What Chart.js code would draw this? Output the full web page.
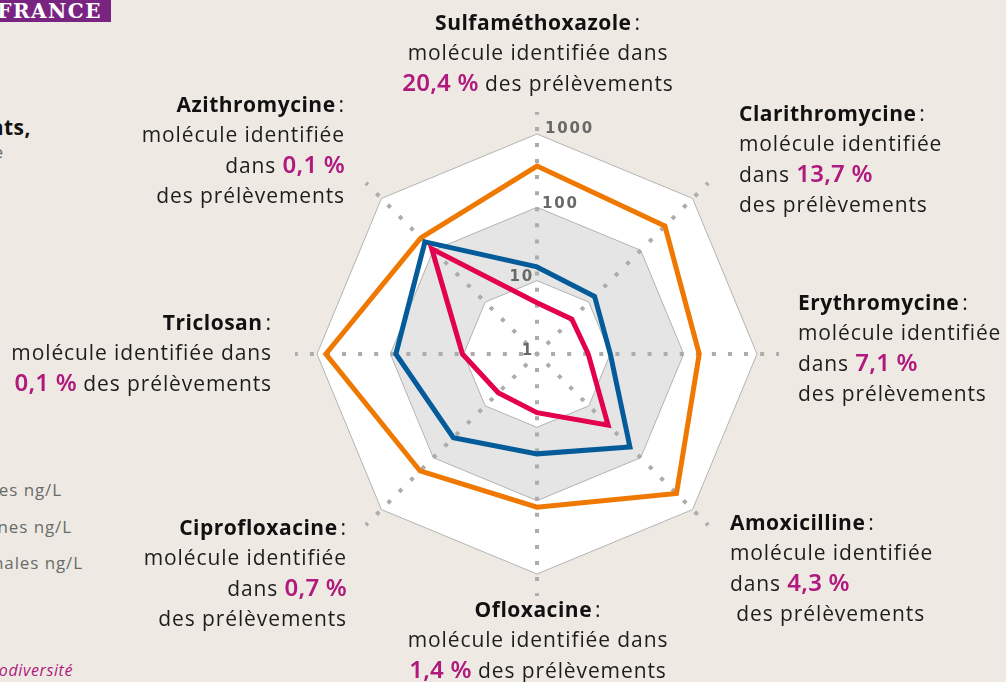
<!DOCTYPE html>
<html lang="fr">
<head>
<meta charset="utf-8">
<script src="https://cdn.jsdelivr.net/npm/chart.js@4.4.1/dist/chart.umd.min.js"></script>
<style>
  html, body { margin:0; padding:0; }
  body { width:1006px; height:682px; overflow:hidden; position:relative; background:#eeeae3; font-family:'Open Sans', sans-serif; }
  #c { position:absolute; left:0; top:0; }
  .lbl { position:absolute; font-size:21px; line-height:30px; color:#1d1d1d; letter-spacing:0.9px; white-space:nowrap; }
  .lbl b { font-weight:700; color:#111; letter-spacing:0.5px; }
  .pct { color:#b0197e; font-weight:600; font-size:24px; font-family:'Noto Sans', sans-serif; letter-spacing:0.2px; line-height:30px; }
  .c { text-align:center; transform:translateX(-50%); }
  .r { text-align:right; }
  .tag { position:absolute; left:-40px; top:-6px; height:28px; width:151px; background:#7a2482; color:#fff; font-family:'DejaVu Serif', serif; font-weight:700; font-size:20px; line-height:34px; text-align:right; letter-spacing:1.5px; box-sizing:border-box; padding-right:9px; }
  .cut { position:absolute; white-space:nowrap; text-align:right; }
</style>
</head>
<body>
<div class="tag">FRANCE</div>
<div class="cut" style="right:975px; top:113px; font-size:21px; font-weight:700; color:#111; letter-spacing:0.5px;">Résidus de médicaments,</div>
<div class="cut" style="right:1003px; top:140px; font-size:17px; color:#666;">en France métropolitaine</div>
<div id="legend"></div>
<div class="cut" style="right:933px; top:659px; font-size:16px; font-style:italic; color:#b0197e; letter-spacing:0.6px;">Source : Office français de la biodiversité</div>
<canvas id="c" width="1006" height="682"></canvas>
<div id="labels"></div>
<script>
// ---- Data ----
const categories = ['Sulfaméthoxazole', 'Clarithromycine', 'Erythromycine', 'Amoxicilline', 'Ofloxacine', 'Ciprofloxacine', 'Triclosan', 'Azithromycine'];
const detectionRates = ['20,4', '13,7', '7,1', '4,3', '1,4', '0,7', '0,1', '0,1'];
const maxConc  = [365, 293, 163, 490, 123, 180, 757, 174];
const meanConc = [15.4, 12.9, 10, 62, 23, 41, 84, 145];
const minConc  = [5.0, 4.7, 5.0, 23.5, 6.3, 5.6, 10.4, 107];
const tickValues = [1, 10, 100, 1000];
const tickLabels = ['1', '10', '100', '1000'];
const seriesNames = ['Concentrations minimales ng/L', 'Concentrations moyennes ng/L', 'Concentrations maximales ng/L'];

// ---- Side texts (cropped legend) ----
const legendRight = [944, 934, 923];
const legendTop = [478, 515, 551];
const legendEl = document.getElementById('legend');
seriesNames.forEach((n, i) => {
  const d = document.createElement('div');
  d.className = 'cut';
  d.style.cssText = `right:${legendRight[i]}px; top:${legendTop[i]}px; font-size:17px; color:#6a6a6a; letter-spacing:0.9px;`;
  d.textContent = n;
  legendEl.appendChild(d);
});

// ---- Category labels ----
const labelLayout = [
  {cls:'c', x:538, top:7, lines:3},
  {cls:'', x:739, top:98, lines:4},
  {cls:'', x:798, top:287, lines:4},
  {cls:'', x:730, top:507, lines:4, indent:true},
  {cls:'c', x:538, top:594, lines:3},
  {cls:'r', x:347, top:512, lines:4},
  {cls:'r', x:272, top:307, lines:3},
  {cls:'r', x:345, top:89, lines:4}
];
const labelsEl = document.getElementById('labels');
categories.forEach((name, i) => {
  const L = labelLayout[i];
  const d = document.createElement('div');
  d.className = 'lbl ' + L.cls;
  if (L.cls === 'r') d.style.right = (1006 - L.x) + 'px'; else d.style.left = L.x + 'px';
  d.style.top = L.top + 'px';
  const pct = `<span class="pct">${detectionRates[i]}&nbsp;%</span>`;
  if (L.lines === 3) {
    d.innerHTML = `<b>${name}</b>&#8202;:<br>molécule identifiée dans<br>${pct} des prélèvements`;
  } else {
    d.innerHTML = `<b>${name}</b>&#8202;:<br>molécule identifiée<br>dans ${pct}<br>${L.indent ? '&nbsp;' : ''}des prélèvements`;
  }
  labelsEl.appendChild(d);
});

// ---- Plugins ----
const bandPlugin = {
  id: 'bands',
  beforeDraw(chart) {
    const s = chart.scales.r, ctx = chart.ctx;
    const bands = [[3, '#ffffff'], [2, '#e5e5e5'], [1, '#ffffff']];
    bands.forEach(([v, col]) => {
      const r = s.getDistanceFromCenterForValue(v);
      ctx.beginPath();
      for (let i = 0; i < categories.length; i++) {
        const p = s.getPointPosition(i, r);
        if (i === 0) ctx.moveTo(p.x, p.y); else ctx.lineTo(p.x, p.y);
      }
      ctx.closePath();
      ctx.fillStyle = col;
      ctx.fill();
    });
  }
};
const tickPlugin = {
  id: 'tickText',
  beforeDatasetsDraw(chart) {
    const s = chart.scales.r, ctx = chart.ctx;
    ctx.save();
    ctx.font = 'bold 15px "DejaVu Sans"';
    ctx.fillStyle = '#686868';
    ctx.letterSpacing = '1.8px';
    ctx.textBaseline = 'alphabetic';
    tickValues.forEach((v, i) => {
      const r = s.getDistanceFromCenterForValue(Math.log10(v));
      const y = s.yCenter - r + (v >= 1000 ? -1.5 : 0.5);
      if (v >= 100) { ctx.textAlign = 'left'; ctx.fillText(tickLabels[i], s.xCenter + (v >= 1000 ? 8 : 5), y); }
      else { ctx.textAlign = 'right'; ctx.fillText(tickLabels[i], s.xCenter - 3, y); }
    });
    ctx.restore();
  }
};

const toLog = arr => arr.map(v => Math.log10(v));
new Chart(document.getElementById('c'), {
  type: 'radar',
  data: {
    labels: categories,
    datasets: [
      {label: seriesNames[0], data: toLog(minConc),  borderColor:'#e2004f'},
      {label: seriesNames[1], data: toLog(meanConc), borderColor:'#045b99'},
      {label: seriesNames[2], data: toLog(maxConc),  borderColor:'#ef7800'}
    ]
  },
  options: {
    responsive: false,
    devicePixelRatio: 1,
    animation: false,
    layout: { padding: { left: 295, right: 227, top: 112, bottom: 86 } },
    elements: {
      line: { borderWidth: 5, tension: 0, fill: false, borderJoinStyle: 'miter' },
      point: { radius: 0, hoverRadius: 0 }
    },
    plugins: { legend: { display: false }, tooltip: { enabled: false } },
    scales: {
      r: {
        min: 0, max: 3.3,
        ticks: { display: false, stepSize: 1 },
        pointLabels: { display: false },
        grid: { lineWidth: 1, color: c => (c.tick && c.tick.value > 3.01) ? 'rgba(0,0,0,0)' : '#b3b3b3' },
        angleLines: { color: '#acacac', lineWidth: 4, borderDash: [4, 12.08], borderDashOffset: 2 }
      }
    }
  },
  plugins: [bandPlugin, tickPlugin]
});
</script>
</body>
</html>
